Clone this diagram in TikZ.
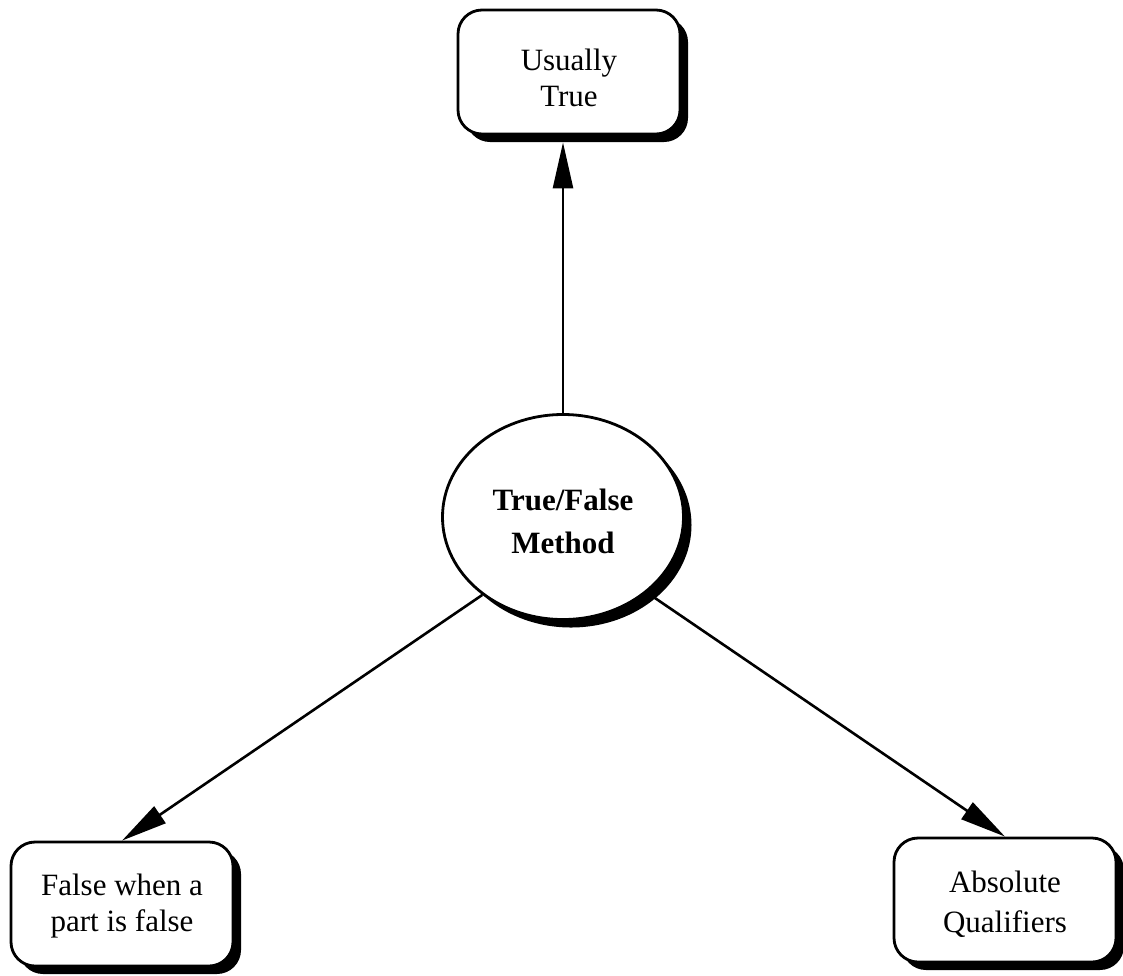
\documentclass[tikz,border=0pt]{standalone}
\usepackage{fontspec}
\setmainfont{Liberation Serif}
\usetikzlibrary{arrows.meta,shadows,shapes.geometric}

\tikzset{
  hardshadow/.style={drop shadow={shadow xshift=8pt,shadow yshift=-8pt,fill=black,opacity=1}},
  ideabox/.style={draw,line width=2.8pt,rounded corners=24pt,fill=white,hardshadow,
    minimum width=222pt,minimum height=124pt,align=center,inner sep=0pt,
    font=\fontsize{31}{36}\selectfont},
  hub/.style={ellipse,draw,line width=2.8pt,fill=white,hardshadow,
    minimum width=241pt,minimum height=205pt,align=center,inner sep=0pt,
    font=\fontsize{31}{43}\selectfont\bfseries},
  link/.style={line width=2.6pt,-{Triangle[length=46pt,width=20pt]}}
}
% two centred lines, lowered by #3 inside their node, with #4 extra leading
\newcommand\pairlines[4]{\raisebox{#3}[\height][\depth]{\begin{tabular}{@{}c@{}}#1\\[#4]#2\end{tabular}}}

\begin{document}
\begin{tikzpicture}[x=1pt,y=-1pt]
  \useasboundingbox[fill=white] (0,0) rectangle (1123,975);

  % central topic and its three branches
  \node[hub] (tf) at (563,517) {\pairlines{True/False}{Method}{-6pt}{0pt}};
  \node[ideabox] (usual) at (569,72) {\pairlines{Usually}{True}{-9pt}{0pt}};
  \node[ideabox] (partfalse) at (122,904) {\pairlines{False when a}{part is false}{-2pt}{0pt}};
  \node[ideabox] (absq) at (1005,900) {\pairlines{Absolute}{Qualifiers}{-5pt}{4pt}};

  % connectors
  \draw[link,shorten >=7pt] (tf.north) -- (tf.north |- usual.south);
  \draw[link] (tf.224) -- (partfalse.north);
  \draw[link] (tf.-42) -- (absq.north);
\end{tikzpicture}
\end{document}
